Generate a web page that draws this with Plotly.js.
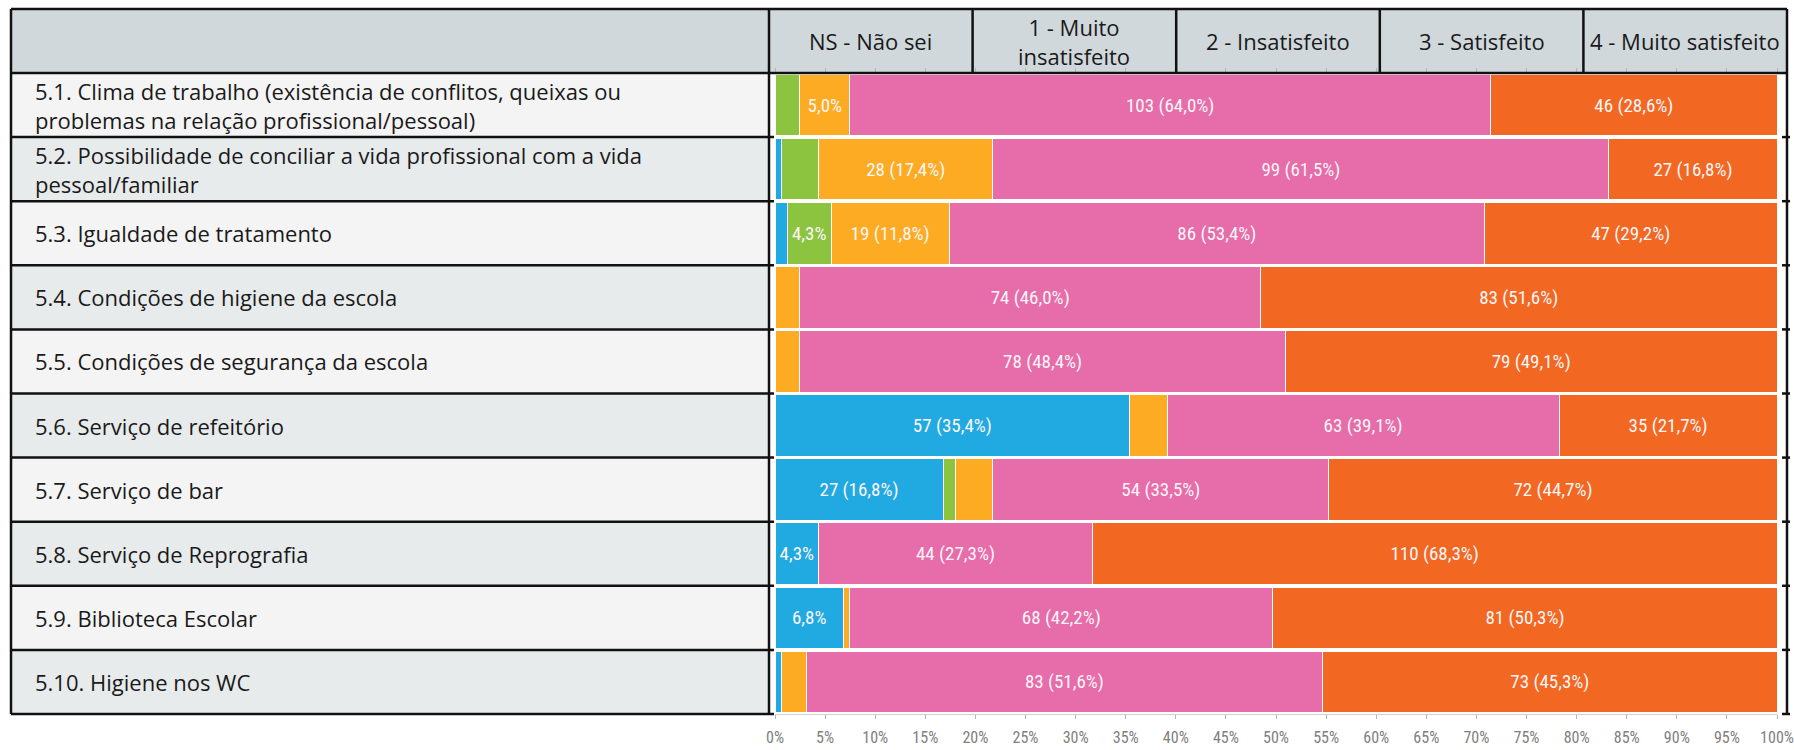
<!DOCTYPE html>
<html><head><meta charset="utf-8">
<script src="https://cdn.plot.ly/plotly-3.0.1.min.js"></script>
<style>html,body{margin:0;padding:0;background:#fff;overflow:hidden;} #chart{width:1794px;height:750px;}</style>
</head><body><div id="chart"></div>
<script>
const categories = [
  "5.1. Clima de trabalho (existência de conflitos, queixas ou<br>problemas na relação profissional/pessoal)",
  "5.2. Possibilidade de conciliar a vida profissional com a vida<br>pessoal/familiar",
  "5.3. Igualdade de tratamento",
  "5.4. Condições de higiene da escola",
  "5.5. Condições de segurança da escola",
  "5.6. Serviço de refeitório",
  "5.7. Serviço de bar",
  "5.8. Serviço de Reprografia",
  "5.9. Biblioteca Escolar",
  "5.10. Higiene nos WC"
];
const seriesNames = ["NS - Não sei", "1 - Muito<br>insatisfeito", "2 - Insatisfeito", "3 - Satisfeito", "4 - Muito satisfeito"];
const nsNaoSei          = [0, 1, 2, 0, 0, 57, 27, 7, 11, 1];
const muitoInsatisfeito = [4, 6, 7, 0, 0, 0, 2, 0, 0, 0];
const insatisfeito      = [8, 28, 19, 4, 4, 6, 6, 0, 1, 4];
const satisfeito        = [103, 99, 86, 74, 78, 63, 54, 44, 68, 83];
const muitoSatisfeito   = [46, 27, 47, 83, 79, 35, 72, 110, 81, 73];
const tickValues = [0,5,10,15,20,25,30,35,40,45,50,55,60,65,70,75,80,85,90,95,100];
const tickLabels = ["0%","5%","10%","15%","20%","25%","30%","35%","40%","45%","50%","55%","60%","65%","70%","75%","80%","85%","90%","95%","100%"];

const series = [nsNaoSei, muitoInsatisfeito, insatisfeito, satisfeito, muitoSatisfeito];
const colors = ["#21aae1", "#8cc43f", "#fdab23", "#e66caa", "#f26722"];

// layout geometry (pixels)
const W = 1794, H = 750;
const PL = 775, PR = 1777, PT = 73, PB = 714;
const TBL_L = 11, TBL_DIV = 769, TBL_R = 1787, TBL_T = 9;
const px = p => (p - PL) / (PR - PL);
const py = p => (PB - p) / (PB - PT);

const rowTotals = categories.map((_, i) => series.reduce((s, arr) => s + arr[i], 0));
const fmt = v => v.toFixed(1).replace('.', ',');
function labelFor(v, i) {
  const p = fmt(v / rowTotals[i] * 100);
  if (v >= 15) return v + ' (' + p + '%)';
  if (v >= 7) return p + '%';
  return '';
}

const narrow = "Roboto Condensed, Roboto, sans-serif";

const traces = series.map((arr, k) => ({
  type: 'bar',
  orientation: 'h',
  name: seriesNames[k],
  y: categories,
  x: arr,
  text: arr.map(labelFor),
  textposition: 'inside',
  insidetextanchor: 'middle',
  textangle: 0,
  textfont: {family: narrow, size: 19, color: '#fdf6f8'},
  marker: {color: colors[k], line: {color: '#ffffff', width: 1}},
  hoverinfo: 'skip'
}));

const shapes = [];
const blk = {color: '#111111', width: 2.5};
// header background
shapes.push({type: 'rect', xref: 'paper', yref: 'paper', x0: px(TBL_L), x1: px(TBL_R), y0: 1, y1: py(TBL_T),
  fillcolor: '#d0d8dc', line: {width: 0}, layer: 'below'});
// label cells backgrounds
categories.forEach((c, i) => {
  shapes.push({type: 'rect', xref: 'paper', yref: 'y', x0: px(TBL_L), x1: px(TBL_DIV), y0: i - 0.5, y1: i + 0.5,
    fillcolor: i % 2 === 0 ? '#f4f4f4' : '#e8ebec', line: {width: 0}, layer: 'below'});
});
// inner row lines
for (let i = 1; i < categories.length; i++) {
  shapes.push({type: 'line', xref: 'paper', yref: 'y', x0: px(TBL_L), x1: px(PL - 1), y0: i - 0.5, y1: i - 0.5, line: blk});
  shapes.push({type: 'line', xref: 'paper', yref: 'y', x0: px(TBL_R - 5), x1: px(TBL_R + 3), y0: i - 0.5, y1: i - 0.5, line: blk});
}
// bottom line of label column
shapes.push({type: 'line', xref: 'paper', yref: 'paper', x0: px(TBL_L), x1: px(PL - 1), y0: 0, y1: 0, line: blk});
shapes.push({type: 'line', xref: 'paper', yref: 'paper', x0: px(TBL_R - 5), x1: px(TBL_R + 3), y0: 0, y1: 0, line: blk});
// header top & bottom
shapes.push({type: 'line', xref: 'paper', yref: 'paper', x0: px(TBL_L), x1: px(TBL_R), y0: py(TBL_T), y1: py(TBL_T), line: blk});
shapes.push({type: 'line', xref: 'paper', yref: 'paper', x0: px(TBL_L), x1: px(TBL_R), y0: 1, y1: 1, line: blk});
// vertical borders
[TBL_L, TBL_DIV, TBL_R].forEach(xv => {
  shapes.push({type: 'line', xref: 'paper', yref: 'paper', x0: px(xv), x1: px(xv), y0: 0, y1: py(TBL_T), line: blk});
});
// header column dividers
const colW = (TBL_R - TBL_DIV) / seriesNames.length;
for (let k = 1; k < seriesNames.length; k++) {
  const xv = TBL_DIV + k * colW;
  shapes.push({type: 'line', xref: 'paper', yref: 'paper', x0: px(xv), x1: px(xv), y0: 1, y1: py(TBL_T), line: blk});
}

const annotations = [];
seriesNames.forEach((s, k) => {
  annotations.push({xref: 'paper', yref: 'paper', x: px(TBL_DIV + (k + 0.5) * colW), y: py((TBL_T + PT) / 2),
    xanchor: 'center', yanchor: 'middle', text: s, showarrow: false,
    font: {family: 'Open Sans', size: 22, color: '#1a1a1a'}});
});
categories.forEach((c, i) => {
  annotations.push({xref: 'paper', yref: 'y', x: px(33), y: i, xanchor: 'left', yanchor: 'middle',
    align: 'left', text: c, showarrow: false,
    font: {family: 'Open Sans', size: 22, color: '#1a1a1a'}});
});

const layout = {
  width: W, height: H,
  margin: {l: PL, r: W - PR, t: PT, b: H - PB, pad: 0},
  barmode: 'stack',
  barnorm: 'percent',
  bargap: 0.04,
  showlegend: false,
  paper_bgcolor: '#ffffff',
  plot_bgcolor: '#ffffff',
  font: {family: 'Open Sans'},
  xaxis: {
    range: [0, 100], tickmode: 'array', tickvals: tickValues, ticktext: tickLabels,
    ticks: 'outside', ticklen: 4, tickcolor: '#b5b5b5', tickwidth: 1,
    mirror: 'ticks', showline: true, linecolor: '#d0d0d0', linewidth: 1,
    showgrid: false, zeroline: false, fixedrange: true,
    ticklabelstandoff: 5, ticklabeloverflow: 'allow',
    tickfont: {family: narrow, size: 16, color: '#808080'}
  },
  yaxis: {
    type: 'category', range: [categories.length - 0.5, -0.5],
    showticklabels: false, showgrid: false, zeroline: false, showline: false, ticks: '', fixedrange: true
  },
  shapes: shapes,
  annotations: annotations
};

Plotly.newPlot('chart', traces, layout, {displayModeBar: false, staticPlot: true});
</script>
</body></html>
